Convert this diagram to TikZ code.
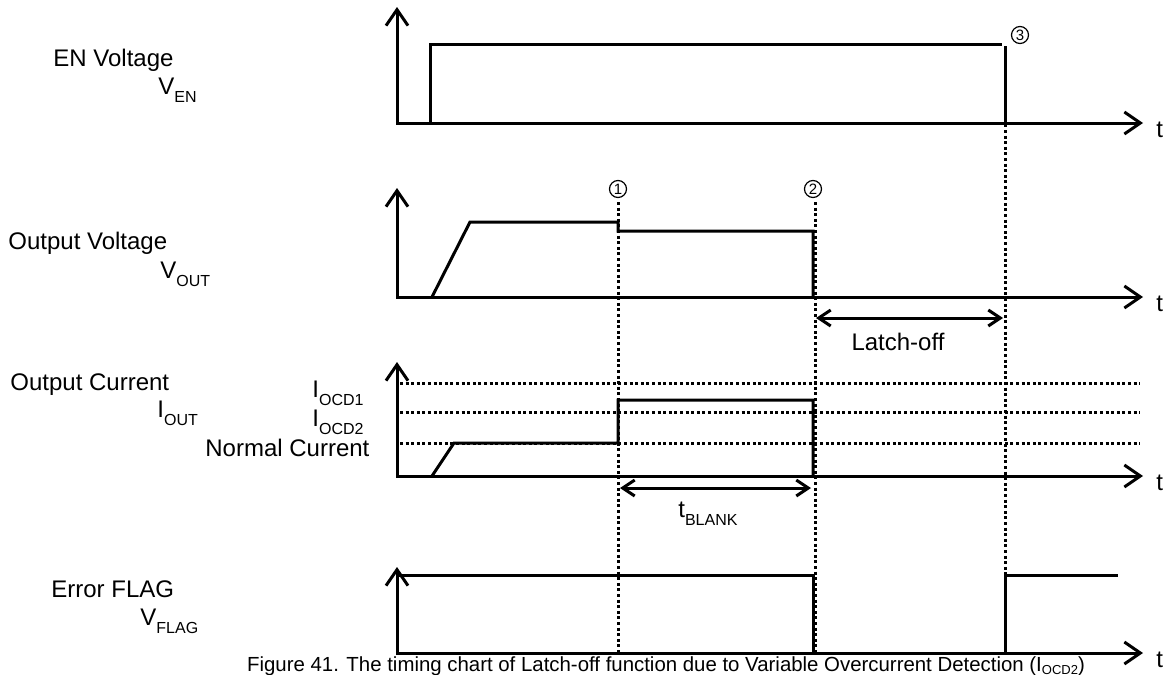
\documentclass[tikz,border=0pt]{standalone}
\usepackage{fontspec}
\setmainfont{Liberation Sans}
\usetikzlibrary{positioning, arrows.meta}
\newcommand{\lowsub}[1]{\raisebox{-4pt}{\fontsize{8}{9}\selectfont #1}}

\begin{document}
\begin{tikzpicture}[x=0.5pt, y=-0.5pt, font=\fontsize{12}{14}\selectfont,
    axis/.style={line width=1.5pt, line join=miter,
      {Straight Barb[length=8pt, width=11pt, line width=1.5pt]}-{Straight Barb[length=8pt, width=11pt, line width=1.5pt]}},
    sig/.style={line width=1.5pt, line join=miter},
    dotline/.style={line width=1.5pt, dash pattern=on 1.5pt off 1.3pt},
    span/.style={line width=1.5pt,
      {Straight Barb[length=6pt, width=8pt, line width=1.5pt]}-{Straight Barb[length=6pt, width=8pt, line width=1.5pt]}},
    lbl/.style={anchor=base west, inner sep=0pt},
    num/.style={circle, draw, line width=0.6pt, minimum size=8.5pt, inner sep=0pt,
      font=\fontsize{7.5}{8}\selectfont}]
  \useasboundingbox (0,0) rectangle (1169,675);

  % axes
  \foreach \top/\base/\nm in {7/123/en, 188/297/vo, 362/476/io, 567/653/fl} {
    \draw[axis] (397,\top) -- (397,\base) -- (1143,\base);
    \node[lbl] (t-\nm) at (1156,{\base+14}) {t};
  }

  % current levels
  \foreach \lev in {383, 412, 443}
    \draw[dotline] (400,\lev) -- (1140,\lev);

  % event markers
  \node[num] (n1) at (618,189) {1};
  \node[num] (n2) at (813,189) {2};
  \node[num] (n3) at (1020,35) {3};
  \draw[dotline] (618,202) -- (618,653);
  \draw[dotline] (815,202) -- (815,653);
  \draw[dotline] (1005,46) -- (1005,653);

  % signals
  \draw[sig] (430,123) -- (430,44) -- (1002,44);
  \draw[sig] (1005,46) -- (1005,123);
  \draw[sig] (432,297) -- (470,222) -- (618,222) -- (618,231) -- (813,231) -- (813,297);
  \draw[sig] (432,476) -- (454,443) -- (618,443) -- (618,400) -- (813,400) -- (813,476);
  \draw[sig] (397,575) -- (813,575) -- (813,653);
  \draw[sig] (1005,653) -- (1005,575) -- (1118,575);

  % spans
  \coordinate (lo-a) at (816,318);
  \coordinate (lo-b) at (1003,318);
  \draw[span] (lo-a) -- (lo-b);
  \node (latch) at (898,342) {Latch-off};
  \coordinate (bk-a) at (620,488);
  \coordinate (bk-b) at (811,488);
  \draw[span] (bk-a) -- (bk-b);
  \node[lbl] (blank) at (678,517) {t\lowsub{BLANK}};

  % left labels
  \node[lbl] (en) at (53,66) {EN Voltage};
  \node[lbl] (ven) at (158,94) {V\lowsub{EN}};
  \node[lbl] (vo) at (8,249) {Output Voltage};
  \node[lbl] (vvo) at (160,278) {V\lowsub{OUT}};
  \node[lbl] (io) at (10,390) {Output Current};
  \node[lbl] (iio) at (157,417) {I\lowsub{OUT}};
  \node[lbl] (ocd1) at (312,397) {I\lowsub{OCD1}};
  \node[lbl] (ocd2) at (312,426) {I\lowsub{OCD2}};
  \node[lbl] (norm) at (205,456) {Normal Current};
  \node[lbl] (fl) at (51,597) {Error FLAG};
  \node[lbl] (vfl) at (140,625) {V\lowsub{FLAG}};

  % caption
  \node[anchor=base, inner sep=0pt, font=\fontsize{10.2}{12}\selectfont] (cap) at (666,671)
    {Figure 41. The timing chart of Latch-off function due to Variable Overcurrent Detection (I\raisebox{-1.5pt}{\fontsize{6.5}{8}\selectfont OCD2})};
\end{tikzpicture}
\end{document}
